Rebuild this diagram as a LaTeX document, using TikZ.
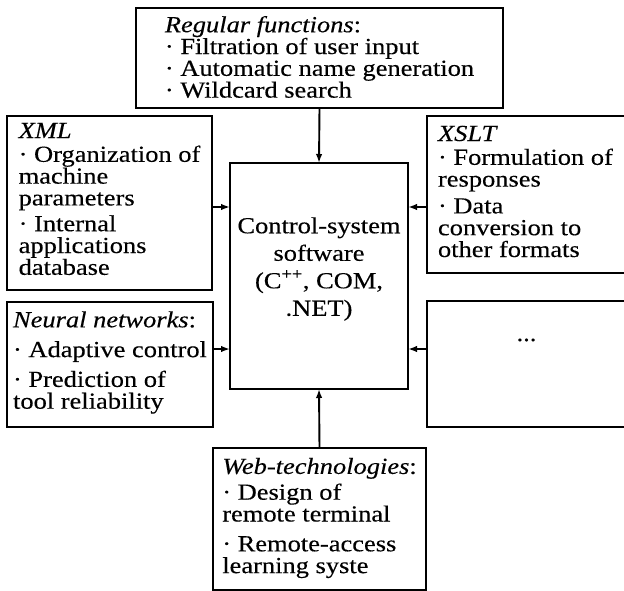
\documentclass[tikz,border=0pt]{standalone}
\usepackage{fontspec}
\setmainfont{Liberation Serif}[FakeStretch=1.15,FakeBold=0.3]
\usetikzlibrary{arrows.meta,calc}
\tikzset{
  box/.style={draw, line width=1.9pt, anchor=north west, inner sep=0pt, outer sep=0pt},
  txt/.style={inner sep=0pt, outer sep=0pt, align=left, font=\fontsize{23}{21.8}\selectfont},
  arr/.style={line width=1.9pt, -{Latex[length=9pt,width=6.5pt]}},
}
\begin{document}
\begin{tikzpicture}[x=1pt,y=-1pt]
\useasboundingbox (0,0) rectangle (624,591);
% boxes
\node[box, minimum width=367pt, minimum height=100pt] (reg) at (136,8) {};
\node[box, minimum width=205pt, minimum height=174pt] (xml) at (7,116) {};
\node[box, minimum width=199pt, minimum height=157pt] (xslt) at (427,116) {};
\node[box, minimum width=206pt, minimum height=125pt] (nn) at (7,302) {};
\node[box, minimum width=199pt, minimum height=126pt] (dotsbox) at (427,301) {};
\node[box, minimum width=178pt, minimum height=226pt] (ctr) at (230,163) {};
\node[box, minimum width=213pt, minimum height=142pt] (web) at (213,448) {};
% texts (negative y offset = up)
\node[txt] (regtext) at ($(reg.center)+(0,-1)$)
  {\textit{Regular functions}:\\· Filtration of user input\\· Automatic name generation\\· Wildcard search};
\node[txt] (xmltext) at ($(xml.center)+(0,-4)$)
  {\textit{XML}\\[2pt]· Organization of\\machine\\parameters\\[4pt]· Internal\\applications\\database};
\node[txt, anchor=west] (xslttext) at ($(xslt.west)+(11,-3)$)
  {\textit{XSLT}\\[2pt]· Formulation of\\responses\\[5pt]· Data\\conversion to\\other formats};
\node[txt] (nntext) at ($(nn.center)+(0,-2)$)
  {\textit{Neural networks}:\\[8pt]· Adaptive control\\[8pt]· Prediction of\\tool reliability};
\node[txt] (dots) at ($(dotsbox.center)+(0,-24)$) {...};
\node[txt, align=center, font=\fontsize{23}{27.5}\selectfont] (ctrtext) at ($(ctr.center)+(0,-7)$)
  {Control-system\\software\\(C\textsuperscript{++}, COM,\\.NET)};
\node[txt] (webtext) at ($(web.center)+(0,-1)$)
  {\textit{Web-technologies}:\\[4pt]· Design of\\remote terminal\\[8pt]· Remote-access\\learning syste};
% connectors
\coordinate (l1) at ($(ctr.north west)+(0,44)$);
\coordinate (l2) at ($(ctr.north west)+(0,186)$);
\coordinate (r1) at ($(ctr.north east)+(0,44)$);
\coordinate (r2) at ($(ctr.north east)+(0,186)$);
\draw[arr] (reg.south) -- (ctr.north);
\draw[arr] (web.north) -- (ctr.south);
\draw[arr] (xml.east |- l1) -- (l1);
\draw[arr] (nn.east |- l2) -- (l2);
\draw[arr] (xslt.west |- r1) -- (r1);
\draw[arr] (dotsbox.west |- r2) -- (r2);
\end{tikzpicture}
\end{document}
